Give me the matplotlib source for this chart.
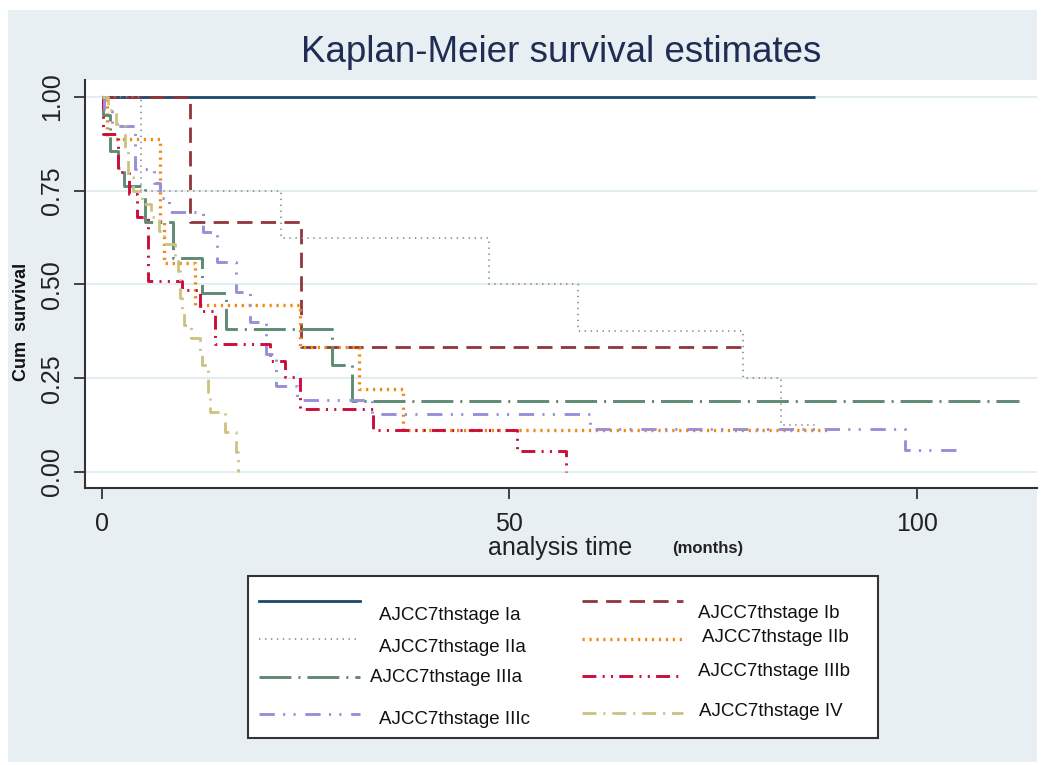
import matplotlib
matplotlib.use("Agg")
import matplotlib.pyplot as plt
from matplotlib.patches import Rectangle
from matplotlib.lines import Line2D

plt.rcParams['font.family'] = ['Liberation Sans', 'DejaVu Sans']
plt.rcParams['lines.scale_dashes'] = False

# Kaplan-Meier step data (months, cumulative survival)
# last point of each list = last follow-up (censored), keeps the line going
ia_t = [0, 87.5]
ia_s = [1.0, 1.0]
ib_t = [0, 10.8, 24.5, 79.0]
ib_s = [1.0, 0.667, 0.333, 0.333]
iia_t = [0, 4.8, 22.0, 47.5, 58.4, 78.7, 83.4, 87.7]
iia_s = [1.0, 0.75, 0.625, 0.5, 0.375, 0.25, 0.125, 0.125]
iib_t = [0, 0.7, 7.1, 7.6, 11.4, 24.3, 31.6, 37.0, 89.3]
iib_s = [1.0, 0.889, 0.667, 0.556, 0.444, 0.333, 0.222, 0.111, 0.111]
iiia_t = [0, 0.1, 1.0, 2.0, 2.7, 5.3, 8.7, 12.3, 15.2, 28.2, 30.7, 112.6]
iiia_s = [1.0, 0.952, 0.857, 0.81, 0.762, 0.667, 0.571, 0.476, 0.381, 0.286, 0.19, 0.19]
iiib_t = [0, 0.1, 2.0, 3.3, 4.3, 5.7, 9.9, 12.0, 13.9, 20.6, 22.5, 24.3, 33.3, 50.9, 57.0]
iiib_s = [1.0, 0.9, 0.8, 0.74, 0.68, 0.51, 0.485, 0.43, 0.34, 0.295, 0.253, 0.169, 0.113, 0.056, 0.0]
iiic_t = [0, 0.3, 1.3, 4.1, 6.4, 7.1, 8.2, 12.4, 14.2, 16.5, 18.2, 20.2, 21.4, 24.0, 33.2, 59.9, 98.6, 104.9]
iiic_s = [1.0, 0.962, 0.923, 0.808, 0.77, 0.73, 0.692, 0.64, 0.56, 0.48, 0.40, 0.315, 0.23, 0.192, 0.154, 0.115, 0.058, 0.058]
iv_t = [0, 0.8, 1.8, 2.9, 3.2, 3.8, 5.0, 6.0, 7.0, 7.7, 9.0, 9.3, 9.6, 9.8, 10.1, 11.0, 12.0, 12.3, 13.0, 13.3, 15.1, 16.5, 16.7]
iv_s = [1.0, 0.964, 0.929, 0.857, 0.786, 0.75, 0.714, 0.679, 0.643, 0.607, 0.571, 0.536, 0.464, 0.429, 0.393, 0.357, 0.321, 0.286, 0.214, 0.161, 0.107, 0.054, 0.0]

labels = ['AJCC7thstage Ia', 'AJCC7thstage Ib', 'AJCC7thstage IIa', 'AJCC7thstage IIb',
          'AJCC7thstage IIIa', 'AJCC7thstage IIIb', 'AJCC7thstage IIIc', 'AJCC7thstage IV']
series = [(ia_t, ia_s), (ib_t, ib_s), (iia_t, iia_s), (iib_t, iib_s),
          (iiia_t, iiia_s), (iiib_t, iiib_s), (iiic_t, iiic_s), (iv_t, iv_s)]

# style per group: color, linestyle, linewidth
styles = [
    ('#1a476f', '-', 2.0),
    ('#90353b', (0, (11, 6)), 2.0),
    ('#8a8a8a', (0, (1, 3.3)), 1.2),
    ('#ef8a17', (0, (1.6, 3.4)), 2.4),
    ('#5f8a74', (0, (23, 5, 1.5, 5)), 2.1),
    ('#cc0d3a', (0, (10, 4.5, 1.5, 4.5, 1.5, 4.5)), 2.1),
    ('#9890d8', (0, (11, 6, 1.5, 6, 1.5, 7)), 2.1),
    ('#cbc27f', (0, (10, 5, 1.5, 5)), 2.0),
]

W, H = 1047, 765
fig = plt.figure(figsize=(W / 100, H / 100), dpi=100)
fig.patch.set_facecolor('white')

# light panel behind everything
fig.patches.append(Rectangle((8 / W, 1 - 762 / H), (1037 - 8) / W, (762 - 10) / H,
                             transform=fig.transFigure, facecolor='#e8eff2',
                             edgecolor='none', zorder=-5))

ax = fig.add_axes([85 / W, 1 - 488 / H, (1037 - 85) / W, (488 - 80) / H], zorder=1)
ax.set_facecolor('white')

for (t, s), (c, ls, lw) in zip(series, styles):
    ax.step(t, s, where='post', color=c, linestyle=ls, linewidth=lw,
            solid_capstyle='butt', dash_capstyle='butt')

ax.set_xlim(-2.05, 114.76)
ax.set_ylim(-0.0427, 1.045)
ax.set_xticks([0, 50, 100])
ax.set_yticks([0, 0.25, 0.5, 0.75, 1.0])
ax.set_yticklabels(['0.00', '0.25', '0.50', '0.75', '1.00'])
ax.grid(axis='y', color='#e2eef0', linewidth=1.5)
ax.set_axisbelow(True)

for side in ['top', 'right']:
    ax.spines[side].set_visible(False)
for side in ['left', 'bottom']:
    ax.spines[side].set_color('#333333')
    ax.spines[side].set_linewidth(1.5)

ax.tick_params(axis='both', length=8, width=1.3, color='#333333', labelsize=18,
               labelcolor='#222222')
ax.tick_params(axis='y', pad=7)
ax.tick_params(axis='x', pad=9)
plt.setp(ax.get_yticklabels(), rotation=90, va='center')

fig.text(561 / W, 1 - 52 / H, 'Kaplan-Meier survival estimates', ha='center', va='center',
         fontsize=26.5, color='#1f2d55')
fig.text(560 / W, 1 - 548 / H, 'analysis time', ha='center', va='center',
         fontsize=18, color='#222222')
fig.text(672 / W, 1 - 549 / H, '(months)', ha='left', va='center',
         fontsize=12, fontweight='bold', color='#222222')
fig.text(22 / W, 1 - 322 / H, 'Cum  survival', ha='center', va='center', rotation=90,
         fontsize=13, fontweight='bold', color='#111111')

# legend, laid out by hand in pixel coordinates
lax = fig.add_axes([0, 0, 1, 1], zorder=5)
lax.set_xlim(0, W)
lax.set_ylim(H, 0)
lax.axis('off')
lax.patch.set_visible(False)
lax.add_patch(Rectangle((248, 576), 630, 162, facecolor='white', edgecolor='#333333',
                        linewidth=1.5))

# legend rows: (line x0, x1, line y, label x, label y)
leg_pos = [
    (259, 360, 601, 379, 615),
    (582, 683, 601, 698, 613),
    (259, 360, 639, 379, 648),
    (582, 683, 639, 702, 637),
    (259, 360, 677, 370, 677),
    (582, 683, 676, 698, 672),
    (259, 360, 714, 379, 719),
    (582, 683, 713, 699, 711),
]
for lab, (c, ls, lw), (x0, x1, ly, tx, ty) in zip(labels, styles, leg_pos):
    lax.add_line(Line2D([x0, x1], [ly, ly], color=c, linestyle=ls, linewidth=lw,
                        dash_capstyle='butt'))
    lax.text(tx, ty, lab, ha='left', va='center', fontsize=13.5, color='#111111')

fig.savefig('out.png', dpi=100)
